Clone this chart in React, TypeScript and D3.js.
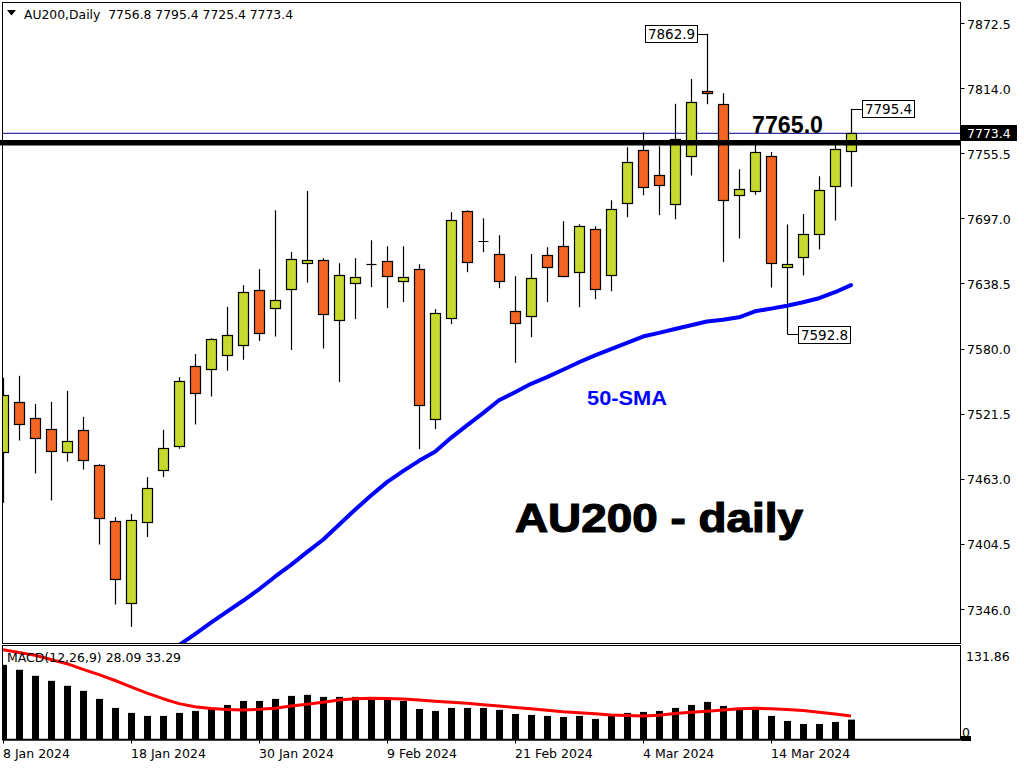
import React from "react";
import * as d3 from "d3";

const dates = [
  "2024-01-08","2024-01-09","2024-01-10","2024-01-11","2024-01-12",
  "2024-01-15","2024-01-16","2024-01-17","2024-01-18","2024-01-19",
  "2024-01-22","2024-01-23","2024-01-24","2024-01-25","2024-01-26",
  "2024-01-29","2024-01-30","2024-01-31","2024-02-01","2024-02-02",
  "2024-02-05","2024-02-06","2024-02-07","2024-02-08","2024-02-09",
  "2024-02-12","2024-02-13","2024-02-14","2024-02-15","2024-02-16",
  "2024-02-19","2024-02-20","2024-02-21","2024-02-22","2024-02-23",
  "2024-02-26","2024-02-27","2024-02-28","2024-02-29","2024-03-01",
  "2024-03-04","2024-03-05","2024-03-06","2024-03-07","2024-03-08",
  "2024-03-11","2024-03-12","2024-03-13","2024-03-14","2024-03-15",
  "2024-03-18","2024-03-19","2024-03-20","2024-03-21",
];

const opens = [
  7487.0, 7531.9, 7517.5, 7507.6, 7487.0, 7506.7, 7475.3, 7425.0, 7351.3, 7424.1,
  7470.8, 7492.3, 7564.2, 7561.5, 7574.1, 7583.1, 7632.4, 7616.3, 7633.3, 7656.7,
  7659.4, 7605.5, 7638.7, 7655.6, 7658.5, 7640.5, 7651.3, 7516.6, 7607.3, 7703.4,
  7676.3, 7664.8, 7613.6, 7609.1, 7663.9, 7672.0, 7648.6, 7687.2, 7645.9, 7710.6,
  7758.2, 7735.7, 7709.7, 7752.8, 7811.2, 7799.5, 7717.8, 7721.4, 7752.8, 7653.1,
  7662.1, 7682.7, 7725.8, 7756.8,
];
const highs = [
  7553.7, 7555.5, 7530.3, 7532.1, 7542.0, 7518.7, 7476.2, 7428.6, 7431.3, 7464.5,
  7507.0, 7554.3, 7575.0, 7589.3, 7617.5, 7636.9, 7651.3, 7704.3, 7666.8, 7721.6,
  7661.2, 7656.7, 7661.2, 7677.3, 7672.0, 7672.0, 7655.8, 7615.4, 7702.5, 7704.3,
  7697.1, 7681.8, 7645.0, 7665.0, 7671.1, 7694.4, 7691.7, 7689.9, 7713.3, 7760.9,
  7774.3, 7761.8, 7800.0, 7822.2, 7862.9, 7809.4, 7741.1, 7764.5, 7756.6, 7691.4,
  7701.0, 7734.8, 7763.6, 7795.4,
];
const lows = [
  7441.4, 7497.4, 7467.7, 7443.5, 7478.5, 7471.3, 7404.0, 7350.1, 7329.8, 7410.6,
  7464.5, 7490.0, 7511.8, 7536.9, 7560.2, 7569.9, 7586.9, 7590.8, 7578.8, 7639.3,
  7580.0, 7549.8, 7606.4, 7635.1, 7616.3, 7621.7, 7489.7, 7507.6, 7601.9, 7648.6,
  7666.6, 7634.2, 7567.2, 7590.2, 7621.7, 7644.1, 7617.2, 7624.4, 7631.5, 7698.0,
  7717.8, 7699.8, 7696.2, 7735.4, 7799.5, 7657.6, 7678.8, 7718.3, 7634.8, 7592.8,
  7645.6, 7668.9, 7695.0, 7725.4,
];
const closes = [
  7538.4, 7512.1, 7499.5, 7487.9, 7496.8, 7479.8, 7427.7, 7372.9, 7425.9, 7454.6,
  7490.5, 7550.7, 7539.9, 7588.4, 7592.0, 7630.6, 7593.8, 7623.5, 7660.3, 7659.4,
  7610.9, 7645.9, 7644.1, 7656.0, 7645.0, 7644.1, 7529.2, 7611.8, 7695.3, 7657.6,
  7676.7, 7640.5, 7602.8, 7643.2, 7653.1, 7645.0, 7689.9, 7633.3, 7705.2, 7747.4,
  7725.2, 7726.7, 7768.1, 7801.3, 7809.4, 7713.3, 7723.2, 7756.4, 7657.0, 7655.8,
  7682.7, 7722.3, 7759.1, 7773.4,
];

// 50-period simple moving average (earlier values are off-panel)
const sma50: (number | null)[] = [
  null, null, null, null, null, null, null, null, null, null,
  null, 7313.5, 7323.5, 7333.7, 7343.6, 7353.4, 7363.7, 7375.0, 7385.7, 7397.1,
  7408.2, 7421.7, 7435.1, 7448.0, 7460.0, 7469.9, 7479.1, 7487.2, 7499.8, 7511.0,
  7522.0, 7533.5, 7540.7, 7548.3, 7554.3, 7561.0, 7567.7, 7573.8, 7579.5, 7585.1,
  7590.8, 7594.1, 7597.6, 7601.0, 7604.3, 7605.8, 7608.1, 7613.5, 7615.9, 7618.4,
  7621.6, 7625.2, 7630.6, 7637.0,
];

const macdHist = [
  106.4, 99.3, 90.7, 83.5, 76.4, 69.2, 57.7, 44.8, 37.7, 33.4,
  33.4, 37.7, 40.5, 44.8, 49.1, 54.8, 54.8, 57.7, 62.0, 63.5,
  60.6, 60.6, 60.6, 57.7, 56.3, 54.8, 43.3, 40.5, 44.8, 44.8,
  44.8, 42.0, 36.2, 34.8, 33.4, 31.9, 33.4, 29.1, 33.4, 37.7,
  39.1, 40.5, 44.8, 49.1, 53.4, 47.7, 43.3, 43.3, 33.4, 26.2,
  21.9, 21.9, 24.8, 28.09,
];
const macdSignal = [
  127.8, 124.0, 120.0, 114.0, 108.0, 100.0, 92.5, 84.0, 75.0, 66.0,
  58.0, 51.0, 46.5, 44.0, 42.5, 42.0, 42.8, 44.5, 47.5, 50.0,
  53.0, 56.0, 58.0, 58.7, 58.2, 57.5, 56.3, 54.5, 53.0, 51.6,
  49.5, 47.5, 45.5, 43.5, 41.5, 39.5, 38.1, 36.4, 34.8, 34.0,
  33.4, 34.5, 36.8, 38.5, 40.0, 42.0, 43.5, 44.4, 43.5, 42.5,
  41.0, 38.5, 36.0, 33.29,
];

const priceTicks = [7346.0, 7404.5, 7463.0, 7521.5, 7580.0, 7638.5, 7697.0, 7755.5, 7814.0, 7872.5];
const macdMax = 131.86;
const resistanceLevel = 7765.0;
const dateTickEvery = 8;
const symbolTitle = "AU200,Daily";
const macdTitle = "MACD(12,26,9)";
const chartTitle = "AU200 - daily";
const smaLabel = "50-SMA";

const BULL = "#c5d92f";
const BEAR = "#f26522";
const FONT = "DejaVu Sans, Verdana, sans-serif";

export default function App() {
  const W = 1024, H = 768;
  const plotL = 2.5, plotR = 960.5, mainT = 2.5, mainB = 643.5, macdT = 645.5, macdB = 739.5;

  const x = d3.scalePoint<string>().domain(dates).range([3, 3 + 16 * (dates.length - 1)]);
  const y = d3.scaleLinear().domain([7346, 7872.5]).range([609, 23]);
  const ym = d3.scaleLinear().domain([0, macdMax]).range([739.3, 647]);
  const fmt = d3.timeFormat("%-d %b %Y");
  const parse = d3.timeParse("%Y-%m-%d");

  const n = dates.length;
  const last = n - 1;
  const smaLine = d3
    .line<number | null>()
    .defined((d) => d !== null)
    .x((_, i) => x(dates[i])!)
    .y((d) => y(d as number));
  const sigLine = d3
    .line<number>()
    .x((_, i) => x(dates[i])!)
    .y((d) => ym(d));

  const cx = (i: number) => x(dates[i])!;
  const iHigh = d3.maxIndex(highs);
  const iLow = d3.minIndex(lows.slice(40)) + 40;

  const boxLabel = (text: string, px: number, py: number, side: "left" | "right", key: string) => {
    const bw = 52, bh = 17;
    const bx = side === "left" ? px - 10 - bw : px + 11;
    const lineX1 = side === "left" ? bx + bw : bx;
    return (
      <g key={key}>
        <line x1={Math.round(px) + 0.5} y1={Math.round(py) + 0.5} x2={lineX1} y2={Math.round(py) + 0.5} stroke="#000" strokeWidth={1} />
        <rect x={Math.round(bx) + 0.5} y={Math.round(py - bh / 2) + 0.5} width={bw} height={bh} fill="#fff" stroke="#000" strokeWidth={1} />
        <text x={bx + bw / 2 + 0.5} y={py + 5.5} textAnchor="middle" fontFamily={FONT} fontSize={13.5} fill="#000">
          {text}
        </text>
      </g>
    );
  };

  return (
    <svg width={W} height={H} style={{ position: "absolute", left: 0, top: 0, background: "#fff" }}>
      <defs>
        <clipPath id="mainClip">
          <rect x={3} y={3} width={plotR - 3} height={mainB - 3} />
        </clipPath>
        <clipPath id="macdClip">
          <rect x={3} y={macdT + 0.5} width={plotR - 3} height={macdB - macdT} />
        </clipPath>
      </defs>
      <rect x={0} y={0} width={W} height={H} fill="#fff" />

      {/* main panel */}
      <g clipPath="url(#mainClip)">
        <line x1={3} x2={plotR} y1={y(closes[last])} y2={y(closes[last])} stroke="#000080" strokeWidth={1} />
        {dates.map((d, i) => {
          const c = cx(i);
          const o = opens[i], cl = closes[i];
          const bull = cl >= o;
          const yTop = y(Math.max(o, cl));
          const yBot = y(Math.min(o, cl));
          const h = yBot - yTop;
          return (
            <g key={d}>
              <line x1={c + 0.5} x2={c + 0.5} y1={y(highs[i])} y2={y(lows[i])} stroke="#000" strokeWidth={1.2} />
              {h < 1.2 ? (
                <line x1={c - 4.5} x2={c + 5.5} y1={Math.round(yTop) + 0.5} y2={Math.round(yTop) + 0.5} stroke="#000" strokeWidth={1.2} />
              ) : (
                <rect x={c - 4.5} y={Math.round(yTop) + 0.5} width={10} height={Math.max(1, Math.round(h))} fill={bull ? BULL : BEAR} stroke="#000" strokeWidth={1.2} />
              )}
            </g>
          );
        })}
        <path d={smaLine(sma50) || ""} fill="none" stroke="#0000ff" strokeWidth={4} strokeLinejoin="round" strokeLinecap="round" />
        <line x1={0} x2={plotR} y1={y(resistanceLevel)} y2={y(resistanceLevel)} stroke="#000" strokeWidth={5.5} />
      </g>
      <line x1={0} x2={3} y1={y(resistanceLevel)} y2={y(resistanceLevel)} stroke="#000" strokeWidth={5.5} />

      {/* annotations */}
      {boxLabel(highs[iHigh].toFixed(1), cx(iHigh), y(highs[iHigh]), "left", "hi")}
      {boxLabel(highs[last].toFixed(1), cx(last), y(highs[last]), "right", "lastHi")}
      {boxLabel(lows[iLow].toFixed(1), cx(iLow), y(lows[iLow]), "right", "lo")}

      <text x={752} y={y(resistanceLevel) - 10} fontFamily="Liberation Sans, Arial, sans-serif" fontWeight="bold" fontSize={23} fill="#000" textLength={71} lengthAdjust="spacingAndGlyphs">
        {resistanceLevel.toFixed(1)}
      </text>
      <text x={587} y={405} fontFamily="Liberation Sans, Arial, sans-serif" fontWeight="bold" fontSize={20} fill="#0000ff" textLength={80} lengthAdjust="spacingAndGlyphs">
        {smaLabel}
      </text>
      <text x={515} y={532} fontFamily="Liberation Sans, Arial, sans-serif" fontWeight="bold" fontSize={40.5} fill="#000" textLength={288} lengthAdjust="spacingAndGlyphs" stroke="#000" strokeWidth={1.2}>
        {chartTitle}
      </text>

      {/* header */}
      <path d="M7,10 L16,10 L11.5,15.5 Z" fill="#000" />
      <text x={24} y={18.5} fontFamily={FONT} fontSize={12.5} fill="#000" textLength={269} lengthAdjust="spacingAndGlyphs" style={{ whiteSpace: "pre" }}>
        {`${symbolTitle}  ${opens[last].toFixed(1)} ${highs[last].toFixed(1)} ${lows[last].toFixed(1)} ${closes[last].toFixed(1)}`}
      </text>

      {/* main frame */}
      <rect x={plotL} y={mainT} width={plotR - plotL} height={mainB - mainT} fill="none" stroke="#000" strokeWidth={1} />

      {/* price axis */}
      {priceTicks.map((t) => (
        <g key={t}>
          <line x1={plotR} x2={plotR + 4} y1={Math.round(y(t)) + 0.5} y2={Math.round(y(t)) + 0.5} stroke="#000" />
          <text x={967} y={y(t) + 5.5} fontFamily={FONT} fontSize={12.5} fill="#000">
            {t.toFixed(1)}
          </text>
        </g>
      ))}
      <rect x={961} y={Math.round(y(closes[last])) - 8} width={56} height={16} fill="#000" />
      <text x={967} y={y(closes[last]) + 5} fontFamily={FONT} fontSize={12.5} fill="#fff">
        {closes[last].toFixed(1)}
      </text>

      {/* MACD panel */}
      <g clipPath="url(#macdClip)">
        {macdHist.map((v, i) => (
          <rect key={dates[i]} x={cx(i) - 3} y={ym(v)} width={7} height={ym(0) - ym(v)} fill="#000" />
        ))}
        <path d={sigLine(macdSignal) || ""} fill="none" stroke="#ff0000" strokeWidth={3} strokeLinejoin="round" />
      </g>
      <rect x={plotL} y={macdT} width={plotR - plotL} height={macdB - macdT} fill="none" stroke="#000" strokeWidth={1} />
      <line x1={plotL} x2={plotR} y1={ym(0) + 0.5} y2={ym(0) + 0.5} stroke="#000" strokeWidth={2} />
      <text x={7} y={662} fontFamily={FONT} fontSize={12.5} fill="#000" textLength={174} lengthAdjust="spacingAndGlyphs">
        {`${macdTitle} ${macdHist[last].toFixed(2)} ${macdSignal[last].toFixed(2)}`}
      </text>
      <text x={966} y={661} fontFamily={FONT} fontSize={12.5} fill="#000">
        {macdMax.toFixed(2)}
      </text>
      <rect x={961} y={736} width={10} height={5} fill="#000" />
      <text x={962} y={737} fontFamily={FONT} fontSize={12.5} fill="#000">0</text>

      {/* date axis */}
      {dates.map((d, i) =>
        i % dateTickEvery === 0 ? (
          <g key={"t" + d}>
            <line x1={cx(i) + 0.5} x2={cx(i) + 0.5} y1={macdB} y2={macdB + 4} stroke="#000" />
            <text x={cx(i)} y={758} fontFamily={FONT} fontSize={12.5} fill="#000">
              {fmt(parse(d)!)}
            </text>
          </g>
        ) : null
      )}
    </svg>
  );
}
